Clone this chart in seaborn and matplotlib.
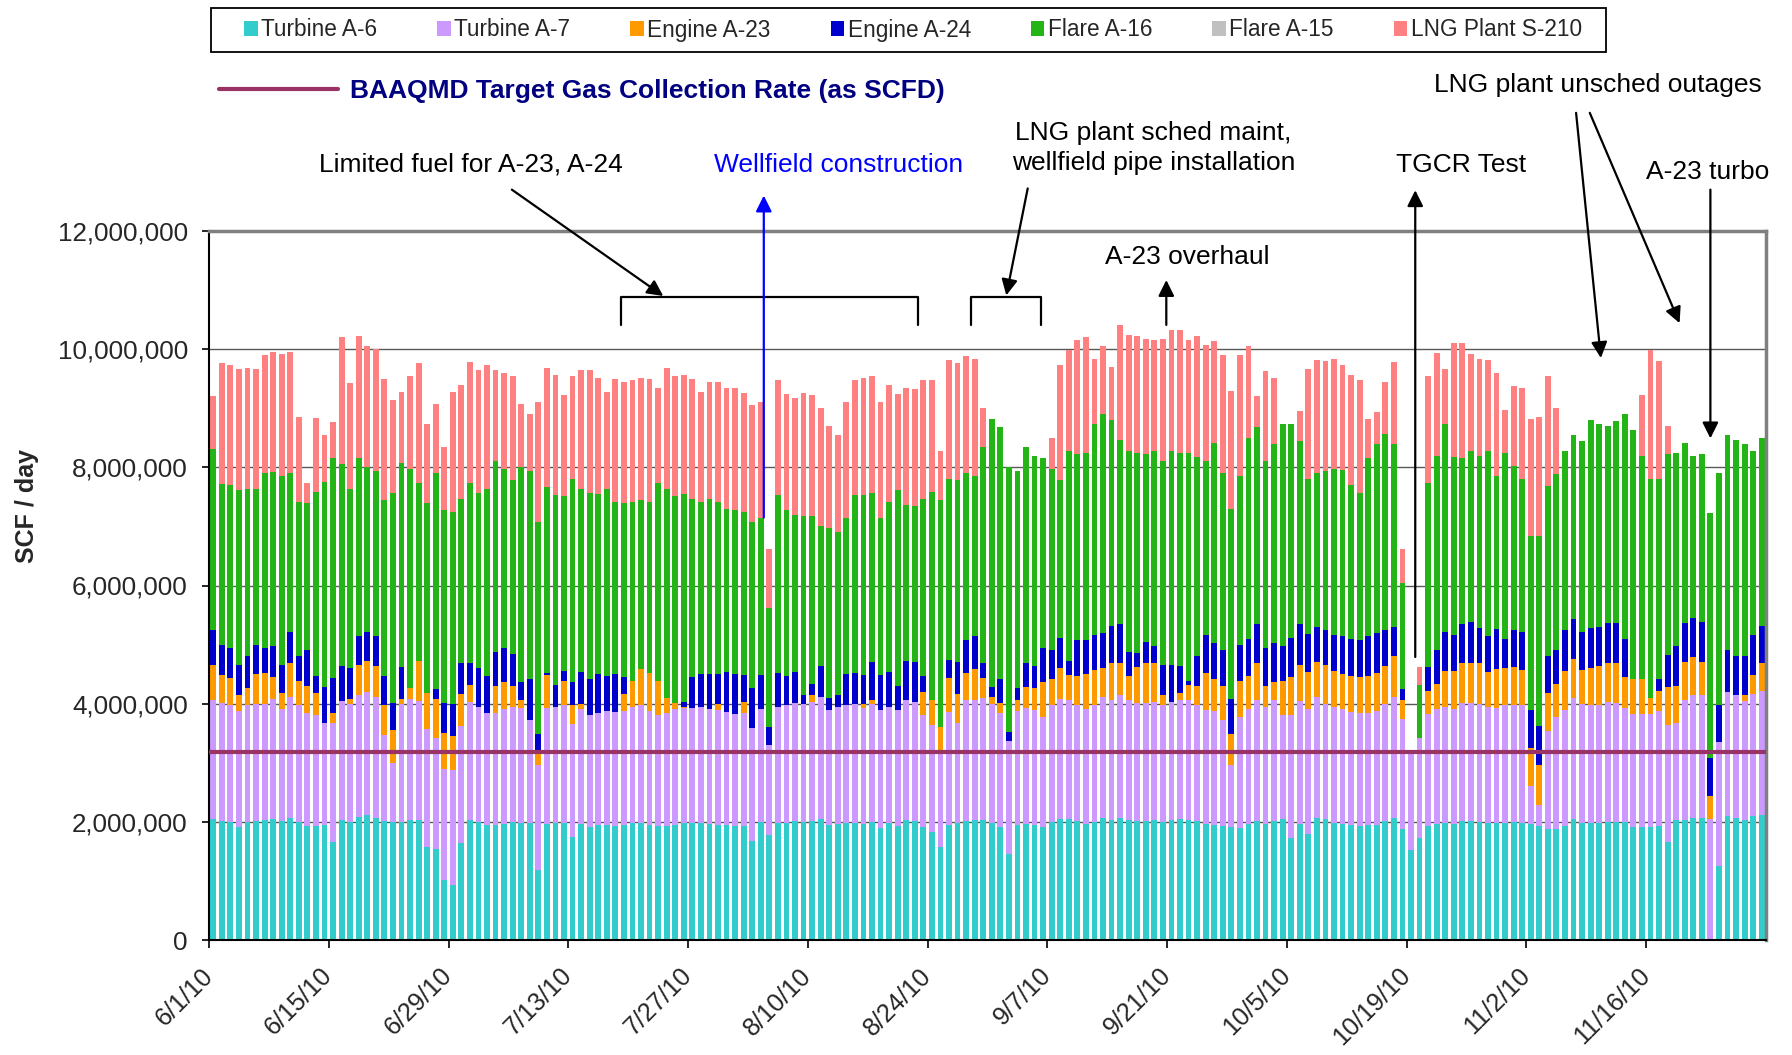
import numpy as np
import matplotlib
matplotlib.use("Agg")
import matplotlib.pyplot as plt
import matplotlib.transforms as mtransforms
from matplotlib.patches import Rectangle
import seaborn as sns
from matplotlib.ticker import FuncFormatter

sns.set_style("white")
plt.rcParams['font.family'] = ['Liberation Sans', 'DejaVu Sans']

# Daily gas use 6/1/10 - 11/29/10, read off the chart as the stacked level (million SCF/day)
# reached after each source is added.
top_a6 = [2.05, 2.01, 1.99, 1.91, 1.99, 2.01, 2.03, 2.05, 2.01, 2.07,
          2.00, 1.93, 1.93, 1.95, 1.66, 2.03, 1.99, 2.08, 2.11, 2.07,
          2.01, 1.99, 1.99, 2.03, 2.03, 1.58, 1.54, 1.01, 0.93, 1.64,
          2.03, 1.99, 1.95, 1.95, 1.97, 1.99, 1.98, 1.98, 1.18, 1.97,
          1.98, 1.98, 1.74, 1.97, 1.91, 1.95, 1.95, 1.93, 1.95, 1.98,
          1.98, 1.95, 1.93, 1.93, 1.95, 1.98, 1.98, 1.98, 1.97, 1.95,
          1.95, 1.93, 1.93, 1.68, 2.00, 1.78, 1.98, 1.98, 2.01, 1.99,
          2.01, 2.05, 1.95, 1.97, 1.98, 1.98, 1.97, 1.99, 1.90, 1.98,
          1.93, 2.03, 2.01, 1.91, 1.82, 1.57, 1.95, 1.98, 2.01, 2.03,
          2.03, 1.98, 1.91, 1.45, 1.95, 1.97, 1.95, 1.91, 2.00, 2.05,
          2.05, 2.01, 1.97, 2.00, 2.07, 2.03, 2.07, 2.03, 2.01, 2.01,
          2.03, 2.00, 2.03, 2.05, 2.03, 2.01, 1.97, 1.95, 1.93, 1.91,
          1.90, 1.97, 2.01, 1.97, 2.01, 2.05, 1.72, 1.97, 1.79, 2.07,
          2.05, 1.98, 1.97, 1.95, 1.93, 1.95, 1.95, 2.01, 2.07, 1.88,
          1.52, 1.72, 1.93, 1.97, 1.98, 1.97, 2.01, 2.01, 2.00, 1.98,
          1.98, 1.98, 2.00, 1.98, 1.97, 1.93, 1.88, 1.88, 1.93, 2.05,
          1.98, 1.98, 1.98, 2.00, 2.00, 2.00, 1.91, 1.91, 1.91, 1.93,
          1.66, 2.03, 2.03, 2.07, 2.07, 0.00, 1.25, 2.10, 2.07, 2.03,
          2.10, 2.11]

top_a7 = [4.07, 4.01, 3.97, 3.88, 3.97, 3.99, 4.00, 4.08, 3.91, 4.11,
          3.97, 3.84, 3.81, 3.68, 3.68, 4.05, 4.00, 4.14, 4.20, 4.12,
          3.47, 3.00, 3.99, 4.08, 4.05, 3.57, 3.42, 2.90, 2.88, 3.62,
          4.03, 3.95, 3.84, 3.84, 3.91, 3.95, 3.93, 3.72, 2.97, 3.93,
          3.95, 3.98, 3.66, 3.91, 3.81, 3.84, 3.88, 3.86, 3.88, 3.95,
          3.97, 3.88, 3.81, 3.84, 3.91, 3.93, 3.93, 3.95, 3.91, 3.90,
          3.86, 3.83, 3.84, 3.59, 3.91, 3.30, 3.95, 3.97, 4.01, 4.00,
          4.03, 4.11, 3.90, 3.95, 3.98, 4.00, 3.93, 4.00, 3.90, 3.95,
          3.90, 4.07, 4.03, 3.81, 3.64, 3.22, 3.86, 3.68, 4.07, 4.07,
          4.10, 4.00, 3.84, 3.37, 3.88, 3.93, 3.90, 3.78, 3.97, 4.08,
          4.07, 3.98, 3.91, 3.97, 4.11, 4.07, 4.14, 4.07, 4.01, 4.01,
          4.03, 3.98, 4.03, 4.07, 4.07, 3.98, 3.90, 3.88, 3.72, 2.97,
          3.78, 3.91, 4.07, 3.95, 4.07, 3.80, 3.80, 4.05, 3.91, 4.11,
          4.00, 3.95, 3.91, 3.86, 3.84, 3.84, 3.88, 4.00, 4.11, 3.74,
          3.20, 3.42, 3.83, 3.91, 3.95, 3.91, 4.01, 4.01, 4.00, 3.95,
          3.93, 3.97, 3.98, 3.97, 2.61, 2.28, 3.54, 3.78, 3.90, 4.10,
          4.00, 3.98, 3.97, 4.03, 4.01, 3.93, 3.83, 3.83, 3.83, 3.88,
          3.64, 3.68, 4.07, 4.15, 4.15, 2.05, 3.35, 4.20, 4.14, 4.05,
          4.17, 4.22]

top_a23 = [4.66, 4.49, 4.44, 4.15, 4.27, 4.51, 4.52, 4.45, 4.18, 4.68,
           4.39, 4.30, 4.18, 3.68, 3.84, 4.05, 4.08, 4.66, 4.72, 4.64,
           3.98, 3.55, 4.08, 4.27, 4.72, 4.18, 4.08, 3.51, 3.46, 4.17,
           4.32, 3.95, 3.84, 4.30, 4.37, 4.30, 4.07, 3.72, 3.22, 4.49,
           3.95, 4.39, 3.97, 4.00, 3.81, 3.84, 3.88, 3.86, 4.17, 4.39,
           4.59, 4.52, 4.39, 4.10, 4.01, 3.95, 3.93, 3.95, 3.91, 4.00,
           3.86, 3.83, 4.03, 3.59, 3.91, 3.30, 3.95, 3.97, 4.01, 4.00,
           4.14, 4.11, 3.90, 3.95, 3.98, 4.00, 4.00, 4.07, 3.90, 3.95,
           3.90, 4.07, 4.03, 4.20, 4.07, 3.61, 4.44, 4.17, 4.52, 4.59,
           4.44, 4.11, 4.01, 3.37, 4.07, 4.28, 4.27, 4.37, 4.41, 4.61,
           4.49, 4.47, 4.51, 4.57, 4.61, 4.69, 4.68, 4.47, 4.62, 4.68,
           4.69, 4.15, 4.03, 4.18, 4.32, 4.30, 4.52, 4.42, 4.30, 3.49,
           4.39, 4.47, 4.69, 4.30, 4.37, 4.39, 4.45, 4.66, 4.54, 4.71,
           4.66, 4.55, 4.51, 4.47, 4.45, 4.47, 4.52, 4.64, 4.81, 4.07,
           3.20, 3.42, 4.22, 4.34, 4.55, 4.55, 4.68, 4.69, 4.68, 4.54,
           4.59, 4.61, 4.62, 4.57, 3.25, 2.97, 4.18, 4.34, 4.55, 4.76,
           4.57, 4.61, 4.64, 4.69, 4.69, 4.45, 4.41, 4.42, 4.10, 4.22,
           4.28, 4.30, 4.71, 4.79, 4.71, 2.43, 3.35, 4.20, 4.14, 4.14,
           4.49, 4.69]

top_a24 = [5.24, 5.00, 4.95, 4.66, 4.81, 5.00, 4.95, 4.97, 4.66, 5.22,
           4.80, 4.90, 4.47, 4.28, 4.44, 4.64, 4.61, 5.15, 5.22, 5.14,
           4.47, 4.01, 4.62, 4.27, 4.72, 4.18, 4.24, 4.01, 4.00, 4.68,
           4.69, 4.61, 4.47, 4.88, 4.95, 4.84, 4.37, 4.41, 3.49, 4.52,
           4.32, 4.55, 4.37, 4.54, 4.42, 4.51, 4.47, 4.51, 4.45, 4.39,
           4.59, 4.52, 4.39, 4.10, 4.01, 4.03, 4.45, 4.51, 4.51, 4.51,
           4.54, 4.51, 4.49, 4.27, 4.49, 3.61, 4.52, 4.47, 4.54, 4.15,
           4.34, 4.64, 4.10, 4.14, 4.51, 4.52, 4.49, 4.71, 4.49, 4.54,
           4.30, 4.72, 4.71, 4.47, 4.07, 3.61, 4.74, 4.71, 5.08, 5.15,
           4.69, 4.28, 4.42, 3.52, 4.27, 4.68, 4.64, 4.95, 4.91, 5.11,
           4.72, 5.07, 5.08, 5.17, 5.20, 5.32, 5.34, 4.88, 4.86, 5.05,
           4.98, 4.66, 4.66, 4.64, 4.39, 4.81, 5.17, 5.03, 4.90, 4.08,
           5.00, 5.10, 5.35, 4.95, 5.03, 4.98, 5.11, 5.35, 5.18, 5.30,
           5.25, 5.17, 5.14, 5.10, 5.08, 5.14, 5.20, 5.24, 5.30, 4.25,
           3.20, 3.42, 4.62, 4.91, 5.22, 5.17, 5.34, 5.39, 5.28, 5.15,
           5.27, 5.10, 5.25, 5.22, 3.90, 3.62, 4.81, 4.90, 5.25, 5.44,
           5.22, 5.28, 5.30, 5.37, 5.37, 5.10, 4.41, 4.42, 4.10, 4.42,
           4.83, 4.98, 5.37, 5.45, 5.39, 3.08, 3.98, 4.90, 4.81, 4.81,
           5.17, 5.32]

top_a16 = [8.31, 7.72, 7.70, 7.61, 7.63, 7.63, 7.90, 7.92, 7.86, 7.90,
           7.41, 7.39, 7.59, 7.76, 8.15, 8.05, 7.63, 8.15, 8.00, 7.93,
           7.44, 7.57, 8.07, 7.97, 7.73, 7.39, 7.91, 7.27, 7.25, 7.47,
           7.74, 7.57, 7.63, 8.11, 7.98, 7.78, 8.00, 7.93, 7.08, 7.66,
           7.54, 7.52, 7.80, 7.64, 7.57, 7.55, 7.63, 7.42, 7.39, 7.41,
           7.44, 7.42, 7.73, 7.64, 7.52, 7.55, 7.47, 7.42, 7.47, 7.41,
           7.30, 7.28, 7.25, 7.08, 7.14, 5.62, 7.53, 7.27, 7.20, 7.18,
           7.18, 7.01, 6.97, 6.91, 7.14, 7.53, 7.54, 7.57, 7.15, 7.42,
           7.61, 7.37, 7.34, 7.47, 7.59, 7.44, 7.80, 7.78, 7.91, 7.86,
           8.34, 8.81, 8.68, 8.01, 7.93, 8.35, 8.20, 8.15, 7.98, 7.78,
           8.28, 8.22, 8.25, 8.74, 8.90, 8.80, 8.47, 8.28, 8.24, 8.22,
           8.28, 8.10, 8.27, 8.24, 8.25, 8.17, 8.10, 8.42, 7.91, 7.30,
           7.86, 8.49, 8.68, 8.10, 8.39, 8.73, 8.74, 8.45, 7.81, 7.91,
           7.93, 7.98, 7.95, 7.70, 7.57, 8.15, 8.39, 8.57, 8.39, 6.04,
           3.20, 4.32, 7.74, 8.20, 8.73, 8.17, 8.15, 8.28, 8.20, 8.28,
           7.86, 8.24, 8.03, 7.80, 6.84, 6.84, 7.68, 7.88, 8.27, 8.55,
           8.45, 8.80, 8.73, 8.70, 8.78, 8.91, 8.64, 8.20, 7.81, 7.80,
           8.22, 8.24, 8.42, 8.20, 8.22, 7.22, 7.91, 8.55, 8.47, 8.39,
           8.28, 8.49]

# Flare A-15 carries nothing in this period, so its level equals the A-16 level
top_a15 = top_a16

top_s210 = [9.20, 9.76, 9.74, 9.66, 9.68, 9.66, 9.90, 9.95, 9.91, 9.95,
            8.86, 7.73, 8.83, 8.54, 8.76, 10.20, 9.43, 10.22, 10.05, 10.00,
            9.49, 9.14, 9.27, 9.54, 9.76, 8.74, 9.07, 8.34, 9.28, 9.39,
            9.78, 9.64, 9.73, 9.64, 9.59, 9.54, 9.08, 8.90, 9.11, 9.68,
            9.56, 9.22, 9.54, 9.64, 9.64, 9.51, 9.27, 9.49, 9.45, 9.47,
            9.51, 9.49, 9.34, 9.68, 9.54, 9.57, 9.49, 9.28, 9.45, 9.44,
            9.34, 9.34, 9.25, 9.05, 9.10, 6.62, 9.47, 9.24, 9.18, 9.25,
            9.22, 9.00, 8.70, 8.54, 9.10, 9.47, 9.51, 9.54, 9.11, 9.39,
            9.24, 9.35, 9.32, 9.47, 9.47, 8.27, 9.81, 9.76, 9.88, 9.83,
            9.01, 8.81, 8.68, 8.01, 7.93, 8.35, 8.20, 8.15, 8.49, 9.74,
            9.99, 10.15, 10.20, 9.83, 10.05, 9.70, 10.41, 10.24, 10.22, 10.17,
            10.15, 10.18, 10.32, 10.32, 10.15, 10.22, 10.07, 10.14, 9.90, 9.30,
            9.90, 10.05, 9.20, 9.63, 9.51, 8.73, 8.74, 8.95, 9.66, 9.81,
            9.80, 9.83, 9.74, 9.56, 9.47, 8.81, 8.93, 9.44, 9.78, 6.62,
            3.20, 4.62, 9.54, 9.93, 9.66, 10.10, 10.11, 9.91, 9.83, 9.81,
            9.59, 8.97, 9.37, 9.35, 8.81, 8.86, 9.54, 9.00, 8.27, 8.55,
            8.45, 8.80, 8.73, 8.70, 8.78, 8.91, 8.64, 9.22, 9.99, 9.80,
            8.70, 8.24, 8.42, 8.20, 8.22, 7.22, 7.91, 8.55, 8.47, 8.39,
            8.28, 8.49]

sources = ["Turbine A-6", "Turbine A-7", "Engine A-23", "Engine A-24",
           "Flare A-16", "Flare A-15", "LNG Plant S-210"]
colors = ["#33CCCC", "#CC99FF", "#FF9900", "#0000CC", "#22B515", "#C0C0C0", "#FF8080"]

tick_labels = ["6/1/10", "6/15/10", "6/29/10", "7/13/10", "7/27/10", "8/10/10", "8/24/10",
               "9/7/10", "9/21/10", "10/5/10", "10/19/10", "11/2/10", "11/16/10"]

target_rate = 3.18  # million SCFD

# per-source daily flows from the stacked levels
levels = np.array([top_a6, top_a7, top_a23, top_a24, top_a16, top_a15, top_s210]) * 1e6
n = levels.shape[1]
flows = np.clip(np.diff(np.vstack([np.zeros(n), levels]), axis=0), 0, None)

fig = plt.figure(figsize=(17.92, 10.55), dpi=100)
ax = fig.add_axes([209 / 1792, 1 - 940 / 1055, 1557 / 1792, 709 / 1055])

days = np.arange(n) + 0.5
bottom = np.zeros(n)
bar_handles = []
for name, col, v in zip(sources, colors, flows):
    h = ax.bar(days, v, width=0.68, bottom=bottom, color=col, linewidth=0, label=name, zorder=2)
    bar_handles.append(h)
    bottom = bottom + v

target = ax.axhline(target_rate * 1e6, color="#993366", lw=3, zorder=4)

ax.set_xlim(0, n)
ax.set_ylim(0, 12e6)
ax.set_yticks(np.arange(0, 12e6 + 1, 2e6))
ax.yaxis.set_major_formatter(FuncFormatter(lambda v, p: f"{v:,.0f}"))
ax.set_xticks(np.arange(0, n, 14))
ax.set_xticklabels(tick_labels, rotation=45, ha="right", va="center", rotation_mode="anchor")
offset = mtransforms.ScaledTranslation(-5 / 100, 0, fig.dpi_scale_trans)
for lab in ax.get_xticklabels():
    lab.set_transform(lab.get_transform() + offset)

ax.tick_params(axis="both", labelsize=18.7, direction="out", width=1.2, color="black",
               bottom=True, left=True)
ax.tick_params(axis="x", length=6, pad=17, labelsize=18.2)
ax.tick_params(axis="y", length=5.3, pad=10)

ax.grid(axis="y", color="#595959", lw=1.0)
ax.grid(axis="x", visible=False)
ax.set_axisbelow(True)
for side in ["left", "bottom"]:
    ax.spines[side].set_color("black")
    ax.spines[side].set_linewidth(1.5)
for side in ["top", "right"]:
    ax.spines[side].set_color("#808080")
    ax.spines[side].set_linewidth(2.5)

fig.text(26.7 / 1792, 0.5204, "SCF / day", rotation=90, ha="center", va="center",
         fontsize=18, fontweight="bold")

# legend box across the top
fig.add_artist(Rectangle((211 / 1792, 1 - 52 / 1055), 1395 / 1792, 44 / 1055,
                         transform=fig.transFigure, fill=False, edgecolor="black", lw=1.3))
fig.legend(bar_handles, sources, ncol=7, loc="center",
           bbox_to_anchor=(244 / 1792, 1 - 52 / 1055, 1338 / 1792, 44 / 1055),
           mode="expand", borderaxespad=0, borderpad=0, fontsize=16.3, handlelength=0.6,
           handleheight=0.65, handletextpad=0.15, frameon=False)

fig.legend([target], ["BAAQMD Target Gas Collection Rate (as SCFD)"], loc="center left",
           bbox_to_anchor=(219 / 1792, 1 - 91 / 1055), frameon=False, borderaxespad=0,
           borderpad=0, handlelength=4.5, handletextpad=0.45,
           prop={"weight": "bold", "size": 19}, labelcolor="#000080")


# annotations
def arrow(x0, y0, x1, y1, color="black"):
    ax.annotate("", xy=(x1, y1 * 1e6), xytext=(x0, y0 * 1e6),
                arrowprops=dict(arrowstyle="-|>", color=color, lw=1.6, mutation_scale=24,
                                shrinkA=0, shrinkB=0),
                annotation_clip=False, zorder=6)


def note(x, y, s, color="black"):
    ax.text(x, y * 1e6, s, ha="center", va="center", fontsize=19, color=color,
            clip_on=False, zorder=6, linespacing=1.3)


def bracket(x0, x1, y_top=10.88, y_bot=10.41):
    ax.plot([x0, x0, x1, x1], [y_bot * 1e6, y_top * 1e6, y_top * 1e6, y_bot * 1e6],
            color="black", lw=1.6, clip_on=False, zorder=6)


note(30.6, 13.12, "Limited fuel for A-23, A-24")
arrow(35.4, 12.70, 53.1, 10.90)
bracket(48.2, 82.9)

note(73.6, 13.12, "Wellfield construction", color="#0000FF")
arrow(64.85, 7.15, 64.85, 12.60, color="#0000FF")

note(110.4, 13.40, "LNG plant sched maint,\nwellfield pipe installation")
arrow(95.7, 12.72, 93.2, 10.91)
bracket(89.1, 97.3)

note(114.4, 11.56, "A-23 overhaul")
arrow(111.9, 10.41, 111.9, 11.17)

note(146.3, 13.12, "TGCR Test")
arrow(141.0, 4.79, 141.0, 12.69)

note(162.4, 14.47, "LNG plant unsched outages")
arrow(159.8, 14.00, 162.7, 9.85)
arrow(161.4, 14.00, 171.9, 10.44)

note(175.2, 13.00, "A-23 turbo")
arrow(175.5, 12.70, 175.5, 8.49)

fig.savefig("out.png", dpi=100)
